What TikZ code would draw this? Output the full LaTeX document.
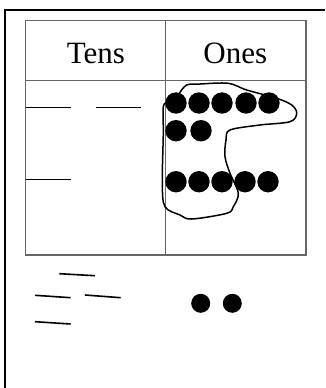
\documentclass[tikz,border=0pt]{standalone}
\usepackage{fontspec}
\setmainfont{Liberation Serif}
\begin{document}
\begin{tikzpicture}[x=1pt,y=-1pt,
  grid/.style={draw=black!60,line width=1.4pt},
  frame/.style={draw=black,line width=2.2pt},
  tally/.style={draw=black,line width=1.6pt},
  dot/.style={fill=black},
  lbl/.style={font=\fontsize{31}{34}\selectfont,anchor=base,inner sep=0pt}]
\useasboundingbox (0,0) rectangle (325,388);
% outer frame (left and top only)
\draw[frame] (5,388) -- (5,10) -- (325,10);
% table
\draw[grid] (25.7,20.7) rectangle (306,255);
\draw[grid] (25.7,80.7) -- (306,80.7);
\draw[grid] (165.7,20.7) -- (165.7,255);
\node[lbl] (tens) at (95.8,63.3) {Tens};
\node[lbl] (ones) at (235.3,63.3) {Ones};
% tens tallies
\draw[tally] (25.7,107.3) -- (70.7,107.3);
\draw[tally] (95.7,107.3) -- (140.7,107.3);
\draw[tally] (25.7,179.3) -- (70.7,179.3);
% ones dots
\foreach \x in {176,199,222,246,269} \fill[dot] (\x,103) circle (10.7);
\foreach \x in {176,201} \fill[dot] (\x,130.7) circle (10.7);
\foreach \x in {176,199,222,245,268} \fill[dot] (\x,181.7) circle (10.7);
% lasso
\draw[line width=1.5pt,line join=round] plot[smooth,tension=0.55] coordinates {
  (179.3,93.3) (186.7,85) (200,84) (228.3,83.3) (246.7,90) (276.7,98.3)
  (291.7,105) (296.7,113.3) (290,121.7) (260,125) (230,130) (226,140)
  (225,156.7) (230,173.3) (238.3,193.3) (233.3,206.7) (226.7,213.3)
  (191.7,219) (180,215) (165,206.7) (162.3,183.3) (163.3,133.3)
  (163.3,106.7) (168.3,101.7) (175,96.7) (179.3,93.3)};
% lower tallies
\draw[tally] (59.3,273.7) -- (95,275.7);
\draw[tally] (35,295.3) -- (70.7,297.7);
\draw[tally] (85,295) -- (120.7,297.7);
\draw[tally] (35,321.7) -- (70.7,324);
% lower dots
\fill[dot] (200.7,303.3) circle (9.5);
\fill[dot] (232.3,303.3) circle (9.5);
\end{tikzpicture}
\end{document}
